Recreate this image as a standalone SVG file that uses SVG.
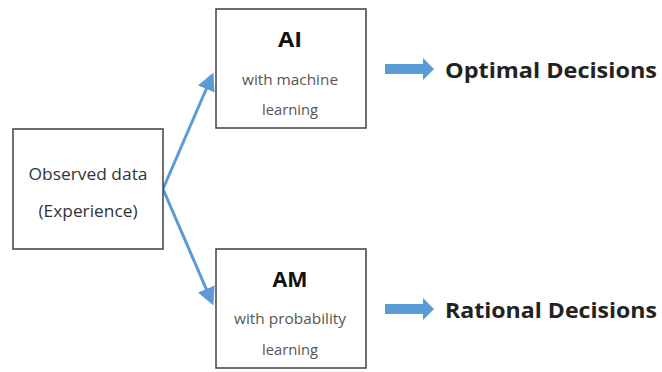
<svg xmlns="http://www.w3.org/2000/svg" width="662" height="372" viewBox="0 0 662 372">
<style>
.box{fill:#fff;stroke:#404040;stroke-width:1.5}
.t{font-family:"Open Sans","Noto Sans","Liberation Sans",sans-serif;fill:#333;text-anchor:middle}
.sm{font-size:14px;fill:#555}
.md{font-size:16px}
.hd{font-size:21px;font-weight:bold;fill:#111}
.big{font-family:"Open Sans","Noto Sans","Liberation Sans",sans-serif;font-size:22px;font-weight:bold;fill:#222}
.con{stroke:#5b9bd5;stroke-width:3;fill:none}
.blk{fill:#5b9bd5}
</style>
<defs>
<marker id="ah" markerWidth="6" markerHeight="6" refX="4" refY="3" orient="auto" markerUnits="strokeWidth">
<path d="M0,0 L6,3 L0,6 z" fill="#5b9bd5"/>
</marker>
</defs>
<rect width="662" height="372" fill="#fff"/>
<g id="connectors">
<path class="con" d="M163,189 L211,78" marker-end="url(#ah)"/>
<path class="con" d="M163,189 L211,300" marker-end="url(#ah)"/>
<path class="blk" d="M385,64 L423,64 L423,58 L434,69 L423,80 L423,74 L385,74 z"/>
<path class="blk" d="M385,304 L423,304 L423,298 L434,309 L423,320 L423,314 L385,314 z"/>
</g>
<g id="observed">
<rect class="box" x="13" y="129" width="150" height="120"/>
<text class="t md" x="88" y="180" textLength="119" lengthAdjust="spacingAndGlyphs">Observed data</text>
<text class="t md" x="88" y="217" textLength="99" lengthAdjust="spacingAndGlyphs">(Experience)</text>
</g>
<g id="ai">
<rect class="box" x="216" y="9" width="150" height="119"/>
<text class="t hd" x="290" y="47" textLength="24" lengthAdjust="spacingAndGlyphs">AI</text>
<text class="t sm" x="290" y="85" textLength="96" lengthAdjust="spacingAndGlyphs">with machine</text>
<text class="t sm" x="290" y="115" textLength="56" lengthAdjust="spacingAndGlyphs">learning</text>
</g>
<g id="am">
<rect class="box" x="216" y="249" width="150" height="119"/>
<text class="t hd" x="290" y="287" textLength="35" lengthAdjust="spacingAndGlyphs">AM</text>
<text class="t sm" x="290" y="324" textLength="112" lengthAdjust="spacingAndGlyphs">with probability</text>
<text class="t sm" x="290" y="355" textLength="56" lengthAdjust="spacingAndGlyphs">learning</text>
</g>
<g id="optimal">
<text class="big" x="445" y="78" textLength="212" lengthAdjust="spacingAndGlyphs">Optimal Decisions</text>
</g>
<g id="rational">
<text class="big" x="445" y="318" textLength="212" lengthAdjust="spacingAndGlyphs">Rational Decisions</text>
</g>
</svg>
